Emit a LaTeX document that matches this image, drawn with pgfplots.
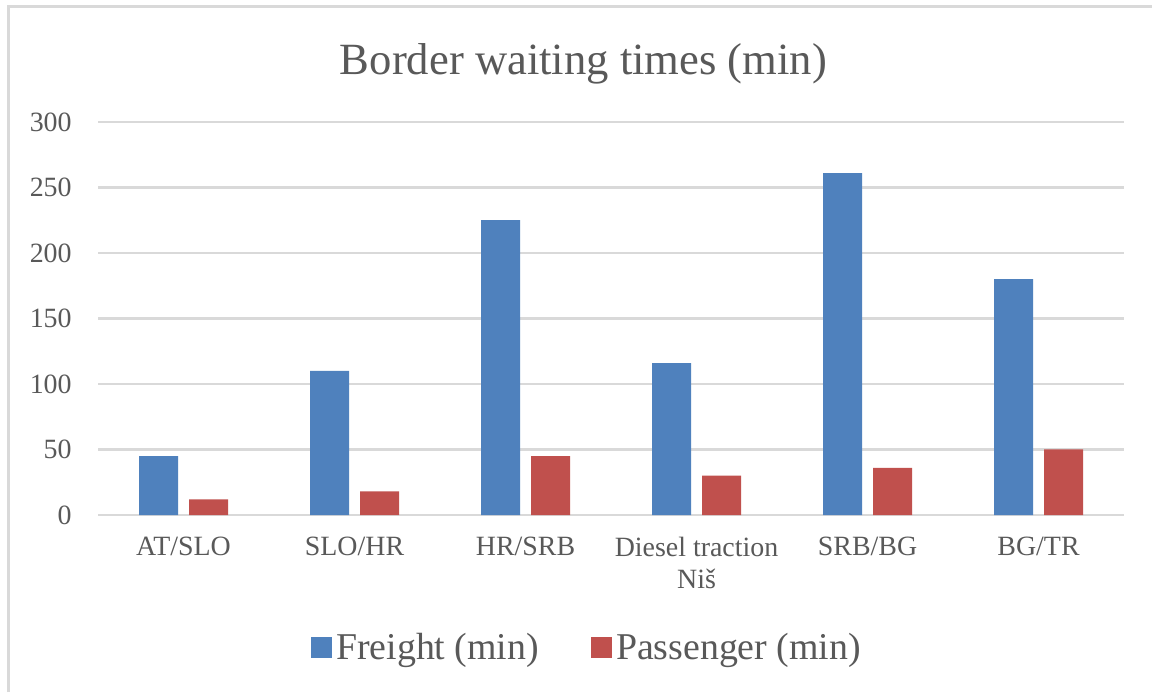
\documentclass[border=0pt]{standalone}
\usepackage{pgfplots}
\pgfplotsset{compat=1.18}
\usepackage{fontspec}
\setmainfont{Liberation Serif}
\definecolor{fblue}{HTML}{4F81BD}
\definecolor{pred}{HTML}{C0504D}
\definecolor{gridgray}{HTML}{D9D9D9}
\definecolor{txtgray}{HTML}{595959}
\begin{document}
\begin{tikzpicture}[x=0.5bp,y=0.5bp]
\path[use as bounding box] (0,0) rectangle (1152,692);
\fill[white] (0,0) rectangle (1152,692);
\draw[gridgray, line width=1.5bp] (8,0) -- (8,685) -- (1152,685);
\coordinate (AX) at (98,177);
\node[anchor=base, text=txtgray, font=\fontsize{22.4}{26}\selectfont] at (583.5,617) {Border waiting times (min)};
\begin{axis}[
  at={(AX)}, anchor=south west,
  scale only axis,
  width=513bp, height=196.5bp,
  xmin=-0.5, xmax=5.5, ymin=0, ymax=300,
  ytick={0,50,...,300},
  xtick={0,...,5},
  xticklabels={AT/SLO, SLO/HR, HR/SRB, {Diesel traction\\Niš}, SRB/BG, BG/TR},
  axis line style={draw=none},
  major tick length=0pt,
  ymajorgrids,
  grid style={gridgray, line width=1.3bp},
  /pgf/number format/assume math mode=true,
  tick label style={text=txtgray, font=\fontsize{14}{16}\selectfont},
  yticklabel style={anchor=east, inner sep=0pt, xshift=-13bp},
  xticklabel style={anchor=north, inner sep=0pt, align=center, yshift=-11bp},
  ybar, bar width=19.5bp,
  legend style={at={(0.4776,-0.3384)}, anchor=center, draw=none, fill=none,
    legend columns=-1, font=\fontsize{19}{22}\selectfont, text=txtgray,
    /tikz/every even column/.append style={column sep=24bp},
    /tikz/every odd column/.append style={column sep=0bp},
    inner sep=0pt},
  legend image code/.code={\fill[#1] (0bp,-5.25bp) rectangle (10.5bp,5.25bp);},
  legend cell align=left,
]
\addplot[fill=fblue, draw=none, bar shift=-12.5bp] coordinates {(0,45) (1,110) (2,225) (3,116) (4,261) (5,180)};
\addplot[fill=pred, draw=none, bar shift=12.5bp] coordinates {(0,12) (1,18) (2,45) (3,30) (4,36) (5,50)};
\legend{Freight (min), Passenger (min)}
\end{axis}
\end{tikzpicture}
\end{document}
